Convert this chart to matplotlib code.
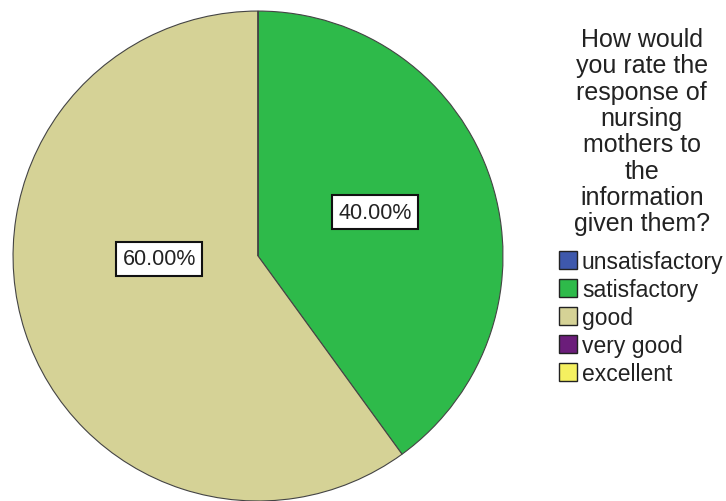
import numpy as np
import matplotlib.pyplot as plt
from matplotlib.patches import Patch

plt.rcParams['font.family'] = ['Liberation Sans', 'DejaVu Sans']

categories = ['unsatisfactory', 'satisfactory', 'good', 'very good', 'excellent']
percents = [0.0, 40.0, 60.0, 0.0, 0.0]
colors = ['#3e58ac', '#2eba4a', '#d5d296', '#6b1d7a', '#f5f060']
title = 'How would\nyou rate the\nresponse of\nnursing\nmothers to\nthe\ninformation\ngiven them?'

fig = plt.figure(figsize=(7.26, 5.02), dpi=100)
ax = fig.add_axes([0.0179, 0.0, 0.675, 0.976])

wedges, _ = ax.pie(percents, colors=colors, startangle=90, counterclock=False,
                   radius=1.0, wedgeprops=dict(edgecolor='#444444', linewidth=0.8))
ax.set_xlim(-1, 1)
ax.set_ylim(-1, 1)
ax.set_aspect('equal')
ax.axis('off')

# percentage labels (SPSS places them a bit off the wedge midpoint)
label_pos = {1: (20.6, 0.51), 2: (181.7, 0.404)}
for i, p in enumerate(percents):
    if p <= 0:
        continue
    ang, r = label_pos[i]
    x = r * np.cos(np.radians(ang))
    y = r * np.sin(np.radians(ang))
    ax.text(x, y, f'{p:.2f}%', ha='center', va='center', fontsize=15.5, color='#222222',
            bbox=dict(boxstyle='square,pad=0.3', facecolor='white', edgecolor='#111111', linewidth=1.5))

fig.text(0.884, 0.944, title, ha='center', va='top', fontsize=18, color='#222222',
         linespacing=1.12)

handles = [Patch(facecolor=c, edgecolor='#222222', linewidth=1.0) for c in colors]
leg = fig.legend(handles, categories, loc='upper left', bbox_to_anchor=(0.770, 0.5),
                 frameon=False, fontsize=16.5, handlelength=0.8, handleheight=0.8,
                 handletextpad=0.2, labelspacing=0.22, borderaxespad=0, borderpad=0)
for t in leg.get_texts():
    t.set_color('#222222')

fig.savefig('out.png', dpi=100)
